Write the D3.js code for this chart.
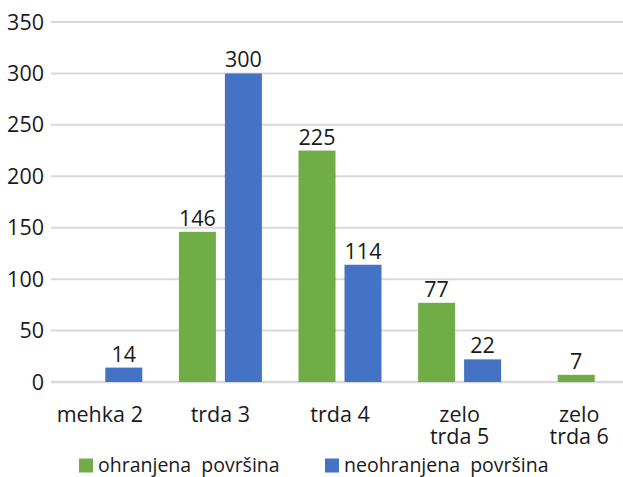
<!DOCTYPE html>
<html><head><meta charset="utf-8">
<script src="https://cdn.jsdelivr.net/npm/d3@7"></script>
<style>html,body{margin:0;padding:0;background:#fff;}svg{display:block;}</style>
</head><body>
<svg id="chart" width="623" height="477"></svg>
<script>
const categories = [["mehka 2"], ["trda 3"], ["trda 4"], ["zelo", "trda 5"], ["zelo", "trda 6"]];
const seriesNames = ["ohranjena  površina", "neohranjena  površina"];
const ohranjena = [null, 146, 225, 77, 7];
const neohranjena = [14, 300, 114, 22, null];
const yTicks = [0, 50, 100, 150, 200, 250, 300, 350];
const colors = ["#70AD47", "#4472C4"];

const svg = d3.select("#chart");
const font = "'Open Sans', 'Noto Sans', sans-serif";
const plot = {left: 51, right: 623, top: 22, bottom: 382};

const y = d3.scaleLinear().domain([0, 350]).range([plot.bottom, plot.top]);
const x = d3.scaleBand().domain(d3.range(categories.length)).range([41, 639]).padding(0);

// gridlines
svg.append("g").selectAll("line").data(yTicks).join("line")
  .attr("x1", plot.left).attr("x2", plot.right)
  .attr("y1", d => y(d)).attr("y2", d => y(d))
  .attr("stroke", "#D9D9D9").attr("stroke-width", d => d === 0 ? 2.5 : 2);

// y axis labels
svg.append("g").selectAll("text").data(yTicks).join("text")
  .attr("x", 44).attr("y", d => y(d) + 7.5)
  .attr("text-anchor", "end").attr("font-family", font).attr("font-size", 21.5)
  .attr("fill", "#1a1a1a").text(d => d);

// bars
const bars = [];
categories.forEach((c, i) => {
  const vals = [ohranjena[i], neohranjena[i]];
  const single = vals.filter(v => v == null).length === 1 && i === categories.length - 1;
  vals.forEach((v, s) => {
    if (v == null) return;
    bars.push({i, s, v, single});
  });
});
const barW = 37, gap = 9;
const barX = d => {
  const c = x(d.i) + x.bandwidth() / 2;
  if (d.single) return c - barW / 2 - 3;
  return d.s === 0 ? c - gap / 2 - barW : c + gap / 2;
};
svg.append("g").selectAll("rect").data(bars).join("rect")
  .attr("x", barX).attr("width", barW)
  .attr("y", d => y(d.v)).attr("height", d => y(0) - y(d.v))
  .attr("fill", d => colors[d.s]);

svg.append("g").selectAll("text").data(bars).join("text")
  .attr("x", d => barX(d) + barW / 2).attr("y", d => y(d.v) - 6)
  .attr("text-anchor", "middle").attr("font-family", font).attr("font-size", 21.5)
  .attr("fill", "#1a1a1a").text(d => d.v);

// category labels
const cat = svg.append("g").selectAll("text").data(categories).join("text")
  .attr("text-anchor", "middle").attr("font-family", font).attr("font-size", 21.5)
  .attr("fill", "#1a1a1a");
cat.each(function(lines, i) {
  const t = d3.select(this);
  lines.forEach((l, k) => {
    t.append("tspan").attr("x", x(i) + x.bandwidth() / 2 - (i === 0 ? 1 : 0)).attr("y", 422 + k * 22).text(l);
  });
});

// legend
const legendX = [79, 325];
const lg = svg.append("g").selectAll("g").data(seriesNames).join("g")
  .attr("transform", (d, i) => `translate(${legendX[i]},458.5)`);
lg.append("rect").attr("width", 14).attr("height", 14).attr("fill", (d, i) => colors[i]);
lg.append("text").attr("x", 19).attr("y", 13).attr("font-family", font).attr("font-size", 19.5)
  .attr("fill", "#1a1a1a").attr("xml:space", "preserve").style("white-space", "pre").text(d => d);
</script>
</body></html>
